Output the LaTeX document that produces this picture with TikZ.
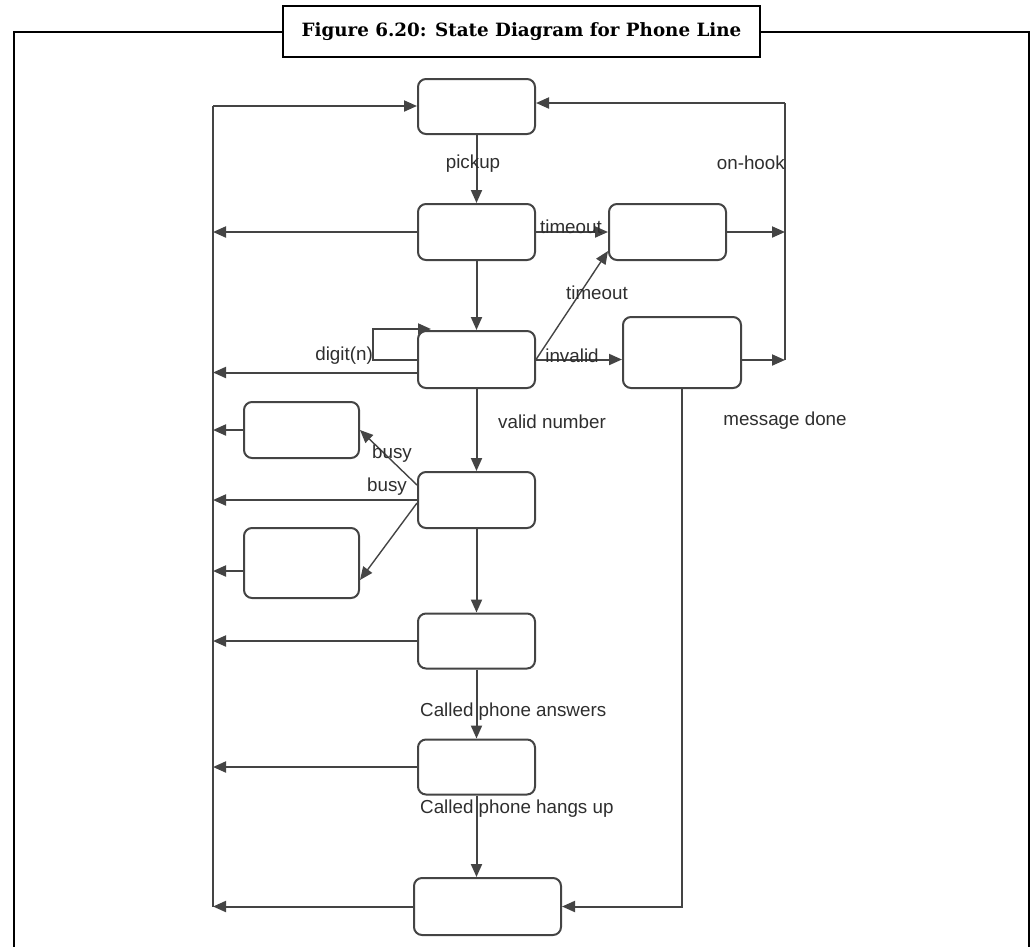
\documentclass[tikz,border=0pt]{standalone}
\usepackage{fontspec}
\setmainfont{Liberation Sans}
\newfontfamily\titlefont{DejaVu Serif}
\usetikzlibrary{arrows.meta}
\definecolor{ln}{HTML}{444444}
\definecolor{tx}{HTML}{2E2E2E}
\begin{document}
\begin{tikzpicture}[x=1pt,y=-1pt,
  state/.style={draw=ln, line width=2pt, rounded corners=8pt, fill=white,
    minimum width=117pt, minimum height=56pt, inner sep=0pt},
  wire/.style={draw=ln, line width=2pt},
  arr/.style={wire, -{Triangle[length=13pt,width=11pt]}},
  thin arr/.style={draw=ln, line width=1.4pt, -{Triangle[length=13pt,width=11pt]}},
  lbl/.style={inner sep=0pt, text=tx, font=\fontsize{18.8}{21}\selectfont},
  frame/.style={draw=black, line width=2.8pt}]
\useasboundingbox (0,0) rectangle (1033,946);

% outer frame (open at the bottom) and caption box
\draw[frame] (14,950) -- (14,32) -- (1029,32) -- (1029,950);
\node[frame, fill=white, minimum width=477pt, minimum height=51pt, inner sep=0pt]
  (title) at (521.5,31.5)
  {\titlefont\bfseries\fontsize{18.3}{20}\selectfont Figure 6.20: State Diagram for Phone Line};

% states
\node[state, minimum height=55pt] (idle)  at (476.5,106.5) {};
\node[state] (dial)    at (476.5,232) {};
\node[state] (warn)    at (667.5,232) {};
\node[state, minimum height=57pt] (collect) at (476.5,359.5) {};
\node[state, minimum width=118pt, minimum height=71pt] (msg) at (682,352.5) {};
\node[state, minimum width=115pt] (busyA) at (301.5,430) {};
\node[state] (route)   at (476.5,500) {};
\node[state, minimum width=115pt, minimum height=70pt] (busyB) at (301.5,563) {};
\node[state, minimum height=55pt] (ring) at (476.5,641) {};
\node[state, minimum height=55pt] (talk) at (476.5,767) {};
\node[state, minimum width=147pt, minimum height=57pt] (hang) at (487.5,906.5) {};

% return buses
\coordinate (Ltop) at (213,106);
\coordinate (Lbot) at (213,907);
\coordinate (Rtop) at (785,103);
\coordinate (Rbot) at (785,360);
\draw[wire] (Ltop) -- (Lbot);
\draw[wire] (Rtop) -- (Rbot);
\draw[arr] (Ltop) -- (idle.west |- Ltop);
\draw[arr] (Rtop) -- (idle.east |- Rtop);

% main flow
\draw[arr] (idle.south) -- (dial.north);
\draw[arr] (dial.south) -- (collect.north);
\draw[arr] (collect.south) -- (route.north);
\draw[arr] (route.south) -- (ring.north);
\draw[arr] (ring.south) -- (talk.north);
\draw[arr] (talk.south) -- (hang.north -| talk.south);

% side transitions
\draw[arr] (dial.east) -- (warn.west);
\draw[thin arr] (collect.east) -- ([yshift=10pt]warn.south west);
\draw[arr] (collect.east) -- (msg.west |- collect.east);
\draw[arr] (warn.east) -- (warn.east -| Rtop);
\draw[arr] (msg.east |- Rbot) -- (Rbot);
\draw[arr] (msg.south) |- (hang.east);
\draw[arr] (collect.west) -- ++(-44,0) |- ([xshift=14pt,yshift=1pt]collect.north west);
\draw[thin arr] ([yshift=15pt]route.west) -- (busyA.east);
\draw[thin arr] ([yshift=-3pt]route.west) -- ([yshift=-17pt]busyB.east);

% exits to the left bus
\draw[arr] (dial.west) -- (dial.west -| Ltop);
\draw[arr] ([yshift=-13pt]collect.west) -- ([yshift=-13pt]collect.west -| Ltop);
\draw[arr] (busyA.west) -- (busyA.west -| Ltop);
\draw[arr] (route.west) -- (route.west -| Ltop);
\draw[arr] ([yshift=-8pt]busyB.west) -- ([yshift=-8pt]busyB.west -| Ltop);
\draw[arr] (ring.west) -- (ring.west -| Ltop);
\draw[arr] (talk.west) -- (talk.west -| Ltop);
\draw[arr] (hang.west) -- (hang.west -| Ltop);

% transition labels
\node[lbl] (lpick) at (473,164) {pickup};
\node[lbl, anchor=east] (lhook) at (785,163) {on-hook};
\node[lbl] (lto1) at (571,227) {timeout};
\node[lbl] (lto2) at (597,293) {timeout};
\node[lbl, anchor=east] (ldig) at (373,356) {digit(n)};
\node[lbl] (linv) at (572,356) {invalid};
\node[lbl, anchor=west] (lvalid) at (498,422) {valid number};
\node[lbl] (ldone) at (785,421) {message done};
\node[lbl] (lbusy1) at (392,454) {busy};
\node[lbl] (lbusy2) at (387,487) {busy};
\node[lbl, anchor=west] (lans) at (420,712) {Called phone answers};
\node[lbl, anchor=west] (lhup) at (420,809) {Called phone hangs up};
\end{tikzpicture}
\end{document}
